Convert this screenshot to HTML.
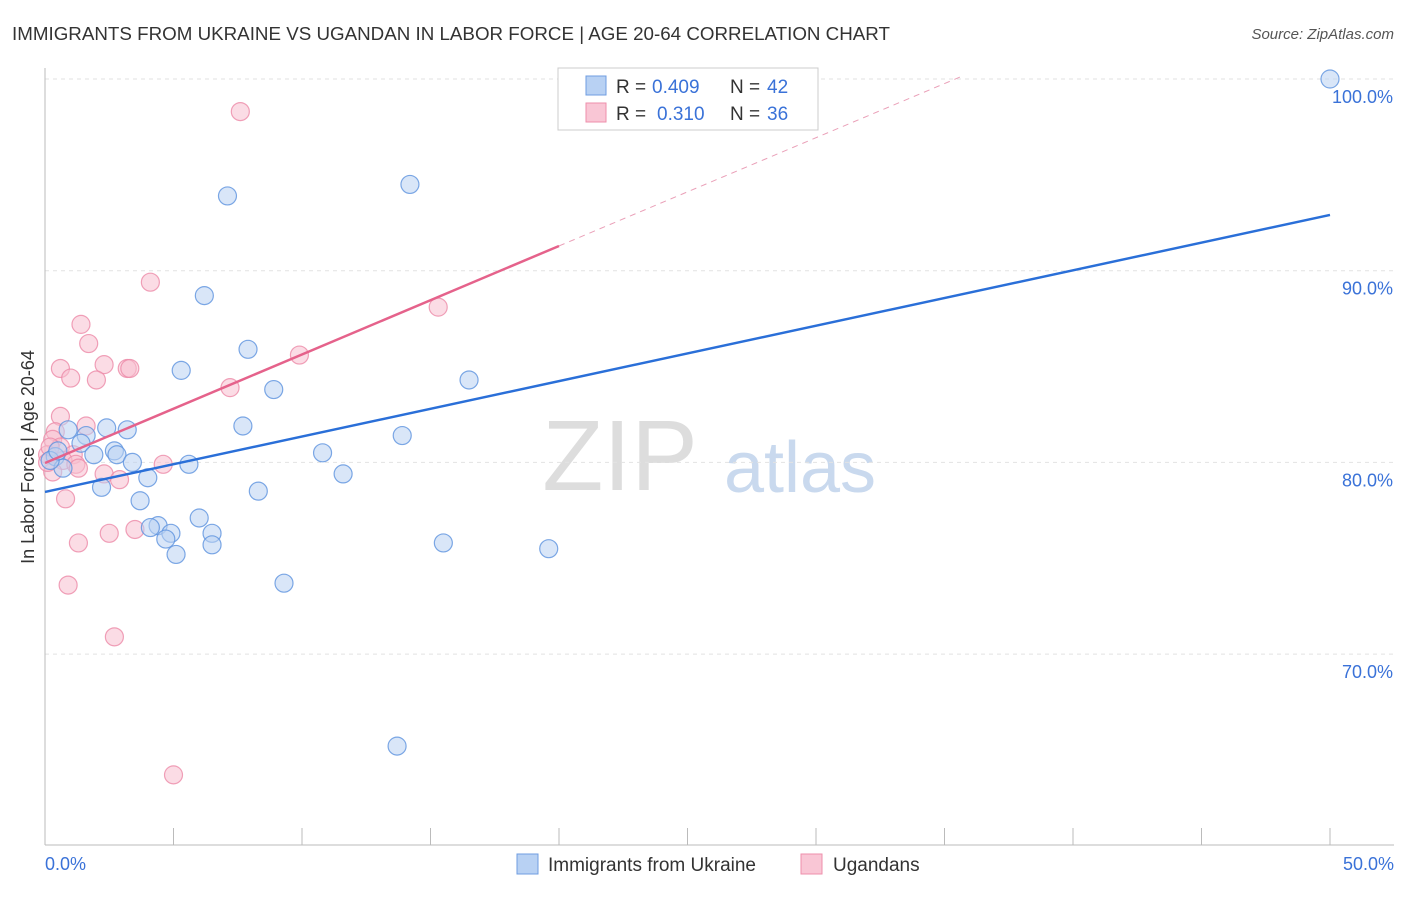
<!DOCTYPE html>
<html><head><meta charset="utf-8"><style>
body{margin:0;background:#fff;font-family:"Liberation Sans",sans-serif;}
svg text{font-family:"Liberation Sans",sans-serif;}
</style></head><body>
<svg id="c" width="1406" height="892" xmlns="http://www.w3.org/2000/svg">
<text x="12" y="40" font-size="18" fill="#333" textLength="878" lengthAdjust="spacingAndGlyphs">IMMIGRANTS FROM UKRAINE VS UGANDAN IN LABOR FORCE | AGE 20-64 CORRELATION CHART</text>
<text x="1394" y="39" font-size="15" fill="#555" font-style="italic" text-anchor="end">Source: ZipAtlas.com</text>
<text x="620" y="490" font-size="100" fill="#ddd" font-family="Liberation Serif" text-anchor="middle">ZIP</text>
<text x="800" y="492" font-size="72" fill="#c9d9ee" text-anchor="middle">atlas</text>
<text transform="translate(34,457) rotate(-90)" font-size="18" fill="#333" text-anchor="middle">In Labor Force | Age 20-64</text>
<g id="grid"></g><g id="marks"></g>
<g>
<rect x="558" y="68" width="260" height="62" fill="#fff" stroke="#ccc"/>
<rect x="586" y="76" width="20" height="19" fill="#b8d1f3" stroke="#6f9de0"/>
<rect x="586" y="103" width="20" height="19" fill="#f9c6d5" stroke="#ee8fab"/>
<text x="616" y="93" font-size="19" fill="#333">R =</text>
<text x="652" y="93" font-size="19" fill="#3a72d8">0.409</text>
<text x="730" y="93" font-size="19" fill="#333">N =</text>
<text x="767" y="93" font-size="19" fill="#3a72d8">42</text>
<text x="616" y="120" font-size="19" fill="#333">R =</text>
<text x="657" y="120" font-size="19" fill="#3a72d8">0.310</text>
<text x="730" y="120" font-size="19" fill="#333">N =</text>
<text x="767" y="120" font-size="19" fill="#3a72d8">36</text>
</g>
<g>
<rect x="517" y="854" width="21" height="20" fill="#b8d1f3" stroke="#6f9de0"/>
<text x="548" y="871" font-size="19" fill="#333">Immigrants from Ukraine</text>
<rect x="801" y="854" width="21" height="20" fill="#f9c6d5" stroke="#ee8fab"/>
<text x="833" y="871" font-size="19" fill="#333">Ugandans</text>
</g>
</svg>
<script>
const yTicks=[70,80,90,100];
const xTickLabels=["0.0%","50.0%"];
const blueX=[50,14.2,7.1,6.2,7.9,5.3,8.9,16.5,7.7,13.9,2.4,3.2,0.9,1.6,1.4,2.7,1.9,2.8,0.4,0.7,3.4,5.6,4.0,10.8,11.6,2.2,8.3,3.7,6.0,4.4,4.1,4.9,6.5,4.7,6.5,5.1,15.5,19.6,9.3,13.7,0.2,0.5];
const blueY=[100,94.5,93.9,88.7,85.9,84.8,83.8,84.3,81.9,81.4,81.8,81.7,81.7,81.4,81.0,80.6,80.4,80.4,80.3,79.7,80.0,79.9,79.2,80.5,79.4,78.7,78.5,78.0,77.1,76.7,76.6,76.3,76.3,76.0,75.7,75.2,75.8,75.5,73.7,65.2,80.1,80.6];
const pinkX=[7.6,4.1,1.4,1.7,0.6,2.3,3.2,3.3,1.0,2.0,9.9,15.3,7.2,0.6,1.6,0.4,0.3,0.6,0.1,1.1,0.7,1.2,1.3,2.3,2.9,0.3,0.8,4.6,1.3,2.5,3.5,0.9,2.7,5.0,0.1,0.2];
const pinkY=[98.3,89.4,87.2,86.2,84.9,85.1,84.9,84.9,84.4,84.3,85.6,88.1,83.9,82.4,81.9,81.6,81.2,80.8,80.4,80.4,80.1,79.9,79.7,79.4,79.1,79.5,78.1,79.9,75.8,76.3,76.5,73.6,70.9,63.7,80.0,80.8];
const blueLine=[[0,78.46],[50,92.91]];
const pinkLine=[[0,79.97],[20,91.29]];
const pinkDash=[[20,91.29],[35.6,100.1]];
const X=v=>45+v/50*1285, Y=v=>79+(100-v)*19.17;
const NS="http://www.w3.org/2000/svg";
function mk(p,t,a){const e=document.createElementNS(NS,t);for(const k in a)e.setAttribute(k,a[k]);p.appendChild(e);return e;}
const g=document.getElementById('grid'),m=document.getElementById('marks');
yTicks.forEach(t=>{
 const l=mk(g,'line',{x1:45,x2:1394,y1:Y(t),y2:Y(t),stroke:'#e2e2e2','stroke-dasharray':'4,4'});
 
 
 const tx=mk(g,'text',{x:1393,y:Y(t)+24,'font-size':18,fill:'#3a72d8','text-anchor':'end'});tx.textContent=t.toFixed(1)+'%';
 
 
});
mk(g,'line',{x1:45,x2:45,y1:68,y2:845,stroke:'#bbb'});
mk(g,'line',{x1:45,x2:1394,y1:845,y2:845,stroke:'#bbb'});
for(let i=0;i<=10;i++){const x=X(i*5);mk(g,'line',{x1:x,x2:x,y1:828,y2:845,stroke:'#bbb'});}
const xl1=mk(g,'text',{x:45,y:870,'font-size':18,fill:'#3a72d8'});xl1.textContent=xTickLabels[0];


const xl2=mk(g,'text',{x:1394,y:870,'font-size':18,fill:'#3a72d8','text-anchor':'end'});xl2.textContent=xTickLabels[1];


function pts(xs,ys,f,s,n){xs.forEach((x,i)=>{const c=mk(m,'circle',{cx:X(x),cy:Y(ys[i]),r:9,fill:f,'fill-opacity':0.55,stroke:s,'stroke-opacity':0.8,'stroke-width':1.2});
 
 });}
pts(pinkX,pinkY,'#f7bfd0','#ec8aa8','ugandans');
pts(blueX,blueY,'#b9d2f3','#5d92df','ukraine');
function ln(d,s,w,da,n){const l=mk(m,'line',{x1:X(d[0][0]),y1:Y(d[0][1]),x2:X(d[1][0]),y2:Y(d[1][1]),stroke:s,'stroke-width':w});if(da)l.setAttribute('stroke-dasharray',da);
 
 }
ln(blueLine,'#2a6fd8',2.5,null,'ukraine-trendline');
ln(pinkLine,'#e5628b',2.5,null,'ugandans-trendline');
ln(pinkDash,'#eaa0b8',1,'6,5','ugandans-trendline-extension');
</script>
</body></html>
